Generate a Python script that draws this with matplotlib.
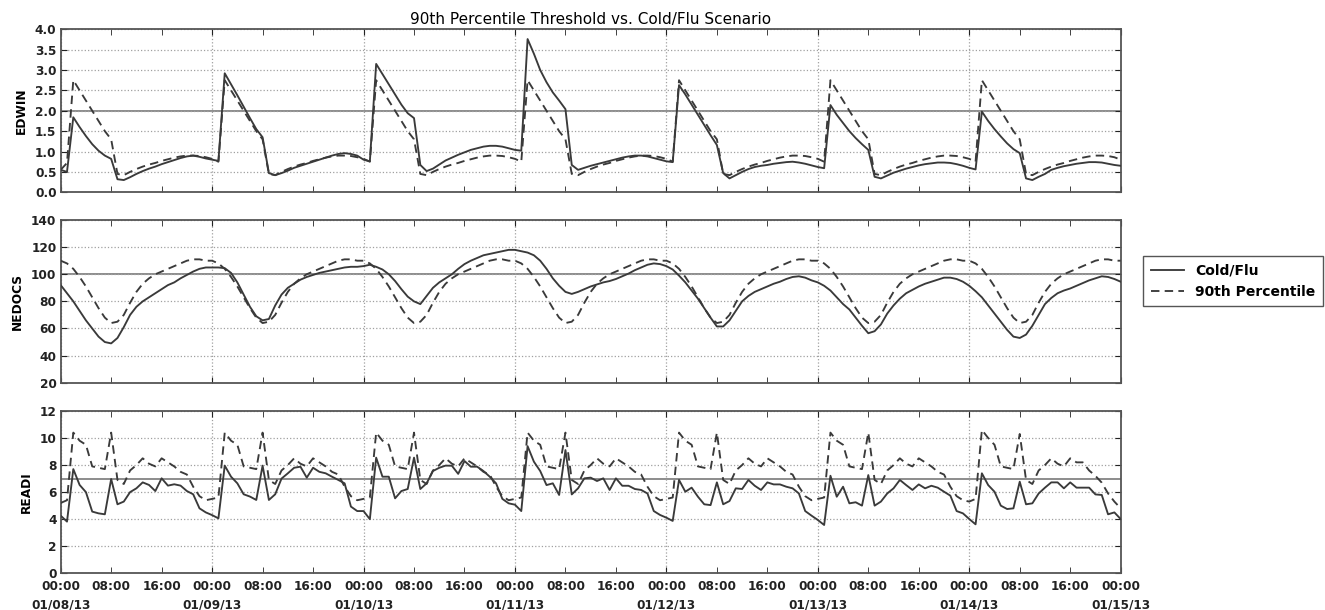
import numpy as np
import pandas as pd
import matplotlib
matplotlib.use("Agg")
import matplotlib.pyplot as plt
import matplotlib.dates as mdates

# hourly values, one row per day (00:00 .. 23:00), plus the 01/15 00:00 point
edwin_flu = [
    [0.55, 0.5, 1.84, 1.6, 1.38, 1.18, 1.02, 0.9, 0.82, 0.32, 0.3, 0.37, 0.45, 0.52, 0.58, 0.63, 0.69, 0.74, 0.79, 0.84, 0.88, 0.9, 0.87, 0.83],
    [0.8, 0.77, 2.92, 2.65, 2.38, 2.1, 1.82, 1.55, 1.35, 0.47, 0.42, 0.47, 0.53, 0.6, 0.65, 0.7, 0.75, 0.8, 0.85, 0.9, 0.94, 0.96, 0.94, 0.9],
    [0.8, 0.76, 3.15, 2.9, 2.65, 2.4, 2.15, 1.94, 1.82, 0.67, 0.52, 0.58, 0.68, 0.78, 0.85, 0.92, 0.98, 1.04, 1.08, 1.12, 1.14, 1.14, 1.12, 1.08],
    [1.04, 1.02, 3.76, 3.4, 3.0, 2.7, 2.45, 2.25, 2.04, 0.67, 0.55, 0.6, 0.65, 0.69, 0.73, 0.77, 0.81, 0.85, 0.88, 0.9, 0.9, 0.88, 0.84, 0.8],
    [0.76, 0.74, 2.63, 2.4, 2.15, 1.9, 1.65, 1.4, 1.16, 0.47, 0.34, 0.42, 0.5, 0.57, 0.62, 0.65, 0.67, 0.7, 0.72, 0.74, 0.75, 0.73, 0.7, 0.66],
    [0.62, 0.59, 2.14, 1.9, 1.7, 1.5, 1.33, 1.18, 1.04, 0.38, 0.34, 0.41, 0.48, 0.53, 0.58, 0.62, 0.66, 0.69, 0.71, 0.73, 0.73, 0.72, 0.69, 0.65],
    [0.6, 0.56, 1.98, 1.75, 1.55, 1.37, 1.2, 1.06, 0.96, 0.34, 0.3, 0.38, 0.45, 0.55, 0.6, 0.64, 0.67, 0.7, 0.72, 0.74, 0.74, 0.73, 0.7, 0.67],
    [0.65],
]
edwin_p90 = [
    [0.55, 0.72, 2.75, 2.5, 2.25, 2.0, 1.75, 1.5, 1.3, 0.45, 0.42, 0.5, 0.57, 0.63, 0.68, 0.72, 0.77, 0.81, 0.85, 0.88, 0.9, 0.9, 0.89, 0.86],
    [0.82, 0.75, 2.75, 2.5, 2.25, 2.0, 1.75, 1.5, 1.3, 0.45, 0.42, 0.5, 0.57, 0.63, 0.68, 0.72, 0.77, 0.81, 0.85, 0.88, 0.9, 0.9, 0.89, 0.86],
    [0.82, 0.75, 2.75, 2.5, 2.25, 2.0, 1.75, 1.5, 1.3, 0.45, 0.42, 0.5, 0.57, 0.63, 0.68, 0.72, 0.77, 0.81, 0.85, 0.88, 0.9, 0.9, 0.89, 0.86],
    [0.82, 0.75, 2.75, 2.5, 2.25, 2.0, 1.75, 1.5, 1.3, 0.45, 0.42, 0.5, 0.57, 0.63, 0.68, 0.72, 0.77, 0.81, 0.85, 0.88, 0.9, 0.9, 0.89, 0.86],
    [0.82, 0.75, 2.75, 2.5, 2.25, 2.0, 1.75, 1.5, 1.3, 0.45, 0.42, 0.5, 0.57, 0.63, 0.68, 0.72, 0.77, 0.81, 0.85, 0.88, 0.9, 0.9, 0.89, 0.86],
    [0.82, 0.75, 2.75, 2.5, 2.25, 2.0, 1.75, 1.5, 1.3, 0.45, 0.42, 0.5, 0.57, 0.63, 0.68, 0.72, 0.77, 0.81, 0.85, 0.88, 0.9, 0.9, 0.89, 0.86],
    [0.82, 0.75, 2.75, 2.5, 2.25, 2.0, 1.75, 1.5, 1.3, 0.45, 0.42, 0.5, 0.57, 0.63, 0.68, 0.72, 0.77, 0.81, 0.85, 0.88, 0.9, 0.9, 0.89, 0.86],
    [0.8],
]
nedocs_flu = [
    [92, 86, 80, 73, 66, 60, 54, 50, 49, 53, 61, 70, 76, 80, 83, 86, 89, 92, 94, 97, 99.5, 102, 104, 105],
    [105, 105, 104.5, 101, 94, 85, 76, 69, 66, 67, 77, 85, 90, 93, 96, 98, 99.5, 101, 102, 103, 104, 105, 105.5, 105.5],
    [106, 107, 105.5, 103.5, 100, 95, 89, 83.5, 80, 78, 84, 90, 94, 97, 100, 104, 107.5, 110, 112, 114, 115, 116, 117, 118],
    [118, 117, 116, 114, 110, 104, 97, 91.5, 87, 85.5, 87, 89, 91, 92.5, 94, 95, 96.5, 98.5, 100.5, 103, 105, 107, 108, 107.5],
    [106, 103.5, 99, 94, 88, 82, 75, 68, 61.5, 61.5, 66, 73, 80, 84, 87, 89, 91, 93, 94.5, 96.5, 98, 98.5, 97.5, 95.5],
    [94, 91.5, 88, 83, 78, 74, 68, 62, 56.5, 58, 63, 71, 77, 82, 86, 88.5, 91, 93, 94.5, 96, 97.5, 97.5, 96.5, 94.5],
    [91.5, 87.5, 83, 77, 71, 65, 59, 54, 53, 55.5, 62, 70, 78, 82.5, 86, 88, 89.5, 91.5, 93.5, 95.5, 97, 98.5, 98, 96.5],
    [94.5],
]
nedocs_p90 = [
    [110, 108, 104, 98, 91, 83, 75, 68, 64, 65, 70, 79, 87, 93, 97, 100, 102, 104, 106, 108, 110, 111, 111, 110],
    [110, 108, 104, 98, 91, 83, 75, 68, 64, 65, 70, 79, 87, 93, 97, 100, 102, 104, 106, 108, 110, 111, 111, 110],
    [110, 108, 104, 98, 91, 83, 75, 68, 64, 65, 70, 79, 87, 93, 97, 100, 102, 104, 106, 108, 110, 111, 111, 110],
    [110, 108, 104, 98, 91, 83, 75, 68, 64, 65, 70, 79, 87, 93, 97, 100, 102, 104, 106, 108, 110, 111, 111, 110],
    [110, 108, 104, 98, 91, 83, 75, 68, 64, 65, 70, 79, 87, 93, 97, 100, 102, 104, 106, 108, 110, 111, 111, 110],
    [110, 108, 104, 98, 91, 83, 75, 68, 64, 65, 70, 79, 87, 93, 97, 100, 102, 104, 106, 108, 110, 111, 111, 110],
    [110, 108, 104, 98, 91, 83, 75, 68, 64, 65, 70, 79, 87, 93, 97, 100, 102, 104, 106, 108, 110, 111, 111, 110],
    [110],
]
readi_flu = [
    [4.26, 3.82, 7.7, 6.53, 6.0, 4.56, 4.43, 4.36, 6.97, 5.1, 5.3, 6.0, 6.28, 6.72, 6.53, 6.08, 7.02, 6.48, 6.58, 6.48, 6.08, 5.84, 4.8, 4.5],
    [4.3, 4.06, 7.96, 7.14, 6.65, 5.84, 5.67, 5.42, 7.96, 5.42, 5.84, 7.0, 7.39, 7.8, 7.88, 7.07, 7.8, 7.5, 7.39, 7.14, 6.9, 6.65, 4.93, 4.6],
    [4.6, 4.0, 8.55, 7.14, 7.14, 5.54, 6.08, 6.23, 8.55, 6.23, 6.65, 7.56, 7.8, 7.96, 7.95, 7.35, 8.3, 7.88, 7.88, 7.56, 7.14, 6.65, 5.5, 5.17],
    [5.07, 4.6, 9.4, 8.25, 7.56, 6.52, 6.65, 5.79, 9.11, 5.83, 6.28, 7.02, 7.07, 6.82, 7.02, 6.16, 7.02, 6.47, 6.47, 6.23, 6.16, 5.9, 4.6, 4.31],
    [4.11, 3.87, 6.9, 6.03, 6.33, 5.66, 5.1, 5.04, 6.72, 5.1, 5.34, 6.28, 6.23, 6.9, 6.47, 6.16, 6.72, 6.57, 6.57, 6.4, 6.28, 5.9, 4.6, 4.26],
    [3.94, 3.57, 7.21, 5.66, 6.4, 5.17, 5.25, 5.0, 7.26, 5.0, 5.3, 5.9, 6.28, 6.9, 6.52, 6.16, 6.57, 6.28, 6.47, 6.33, 6.03, 5.74, 4.6, 4.43],
    [4.01, 3.62, 7.39, 6.52, 6.03, 5.0, 4.75, 4.8, 6.77, 5.1, 5.17, 5.9, 6.33, 6.72, 6.72, 6.28, 6.72, 6.33, 6.33, 6.33, 5.83, 5.79, 4.36, 4.5],
    [4.01],
]
readi_p90 = [
    [5.2, 5.4, 10.4, 9.8, 9.5, 7.9, 7.8, 7.7, 10.4, 6.9, 6.6, 7.6, 8.0, 8.5, 8.1, 7.9, 8.5, 8.2, 7.9, 7.5, 7.3, 6.4, 5.7, 5.4],
    [5.5, 5.6, 10.4, 9.8, 9.5, 7.9, 7.8, 7.7, 10.4, 6.9, 6.6, 7.6, 8.0, 8.5, 8.1, 7.9, 8.5, 8.2, 7.9, 7.5, 7.3, 6.4, 5.7, 5.4],
    [5.5, 5.6, 10.4, 9.8, 9.5, 7.9, 7.8, 7.7, 10.4, 6.9, 6.6, 7.6, 8.0, 8.5, 8.1, 7.9, 8.5, 8.2, 7.9, 7.5, 7.3, 6.4, 5.7, 5.4],
    [5.5, 5.6, 10.4, 9.8, 9.5, 7.9, 7.8, 7.7, 10.4, 6.9, 6.6, 7.6, 8.0, 8.5, 8.1, 7.9, 8.5, 8.2, 7.9, 7.5, 7.3, 6.4, 5.7, 5.4],
    [5.5, 5.6, 10.4, 9.8, 9.5, 7.9, 7.8, 7.7, 10.4, 6.9, 6.6, 7.6, 8.0, 8.5, 8.1, 7.9, 8.5, 8.2, 7.9, 7.5, 7.3, 6.4, 5.7, 5.4],
    [5.5, 5.6, 10.4, 9.8, 9.5, 7.9, 7.8, 7.7, 10.4, 6.9, 6.6, 7.6, 8.0, 8.5, 8.1, 7.9, 8.5, 8.2, 7.9, 7.5, 7.3, 6.4, 5.7, 5.4],
    [5.3, 5.5, 10.6, 10.0, 9.5, 7.9, 7.8, 7.7, 10.3, 6.9, 6.6, 7.6, 8.0, 8.5, 8.1, 7.9, 8.5, 8.2, 8.2, 7.6, 7.2, 6.7, 5.9, 5.3],
    [4.8],
]

def flat(rows):
    return [v for r in rows for v in r]

times = pd.date_range("2013-01-08 00:00", periods=169, freq="h")

panels = [
    ("EDWIN", edwin_flu, edwin_p90, (0, 4), np.arange(0, 4.01, 0.5), 2.0, "%.1f"),
    ("NEDOCS", nedocs_flu, nedocs_p90, (20, 140), np.arange(20, 141, 20), 100, "%d"),
    ("READI", readi_flu, readi_p90, (0, 12), np.arange(0, 12.1, 2), 7, "%d"),
]

fig = plt.figure(figsize=(13.25, 6.1), dpi=100)
boxes = [[0.0458, 0.6848, 0.8, 0.2672],
         [0.0458, 0.3726, 0.8, 0.2667],
         [0.0458, 0.0602, 0.8, 0.2661]]
line_col = "#3a3a3a"
tick_font = dict(size=8.7, weight="bold")
axes = []
for i, (name, flu, p90, ylim, yt, ref, fmt) in enumerate(panels):
    ax = fig.add_axes(boxes[i])
    axes.append(ax)
    ax.axhline(ref, color="#8c8c8c", lw=1.4, zorder=1)
    ax.plot(times, flat(flu), color=line_col, lw=1.35, label="Cold/Flu", zorder=3)
    ax.plot(times, flat(p90), color=line_col, lw=1.35, ls=(0, (4.5, 2.8)),
            label="90th Percentile", zorder=3)
    ax.set_ylim(*ylim)
    ax.set_yticks(yt)
    ax.yaxis.set_major_formatter(matplotlib.ticker.FormatStrFormatter(fmt))
    ax.set_xlim(times[0], times[-1])
    ax.xaxis.set_major_locator(mdates.DayLocator())
    ax.xaxis.set_minor_locator(mdates.HourLocator(byhour=[8, 16]))
    ax.grid(True, which="major", color="#a0a0a0", ls=":", lw=0.9)
    ax.tick_params(which="both", direction="in", top=True, right=True,
                   colors="#222222", length=4)
    ax.tick_params(axis="y", pad=3)
    ax.tick_params(axis="x", which="both", pad=5)
    for lab in ax.get_yticklabels():
        lab.set_fontweight("bold")
        lab.set_fontsize(8.7)
    ax.set_ylabel(name, fontsize=8.7, fontweight="bold", labelpad=5)
    for s in ax.spines.values():
        s.set_color("#555555")
        s.set_linewidth(1.3)
    if i < 2:
        ax.tick_params(which="both", labelbottom=False)
    else:
        ax.xaxis.set_major_formatter(mdates.DateFormatter("%H:%M\n%m/%d/%y"))
        ax.xaxis.set_minor_formatter(mdates.DateFormatter("%H:%M"))

axes[0].set_title("90th Percentile Threshold vs. Cold/Flu Scenario", fontsize=11, pad=4)
axes[1].legend(loc="center left", bbox_to_anchor=(1.0144, 0.625), fancybox=False,
               edgecolor="#555555", prop=dict(size=10, weight="bold"),
               handlelength=2.4, borderpad=0.55, framealpha=1)

fig.canvas.draw()
bottom = axes[2]
for t in bottom.xaxis.get_major_ticks() + bottom.xaxis.get_minor_ticks():
    t.label1.set_fontweight("bold")
    t.label1.set_fontsize(8.7)
    t.label1.set_linespacing(1.55)
for ax in axes:
    for t in ax.yaxis.get_major_ticks():
        t.label1.set_fontweight("bold")
        t.label1.set_fontsize(8.7)

fig.savefig("out.png", dpi=100, facecolor="white")
